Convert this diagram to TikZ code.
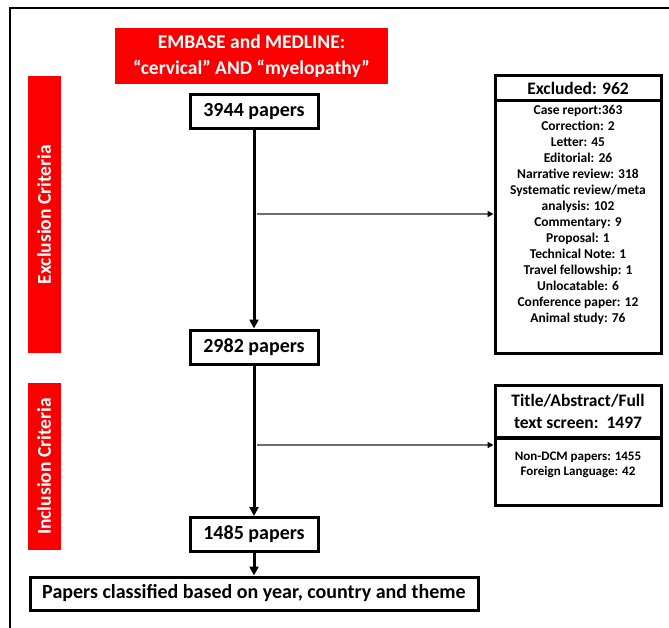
\documentclass[tikz,border=0pt]{standalone}
\usepackage{fontspec}
\setmainfont{Carlito}
\usetikzlibrary{arrows.meta}
\definecolor{redbar}{RGB}{250,0,0}
\begin{document}
\begin{tikzpicture}[x=1pt,y=-1pt,
  box/.style={draw=black,line width=3pt,inner sep=0pt,align=center,font=\bfseries\fontsize{20}{24}\selectfont},
  redbox/.style={fill=redbar,inner sep=0pt,text=white,align=center,font=\bfseries\fontsize{19.5}{26}\selectfont},
  plain/.style={inner sep=0pt,align=center},
  flow/.style={line width=3pt,-{Triangle[length=9pt,width=9pt]}},
  side/.style={draw=gray!85!black,line width=1.3pt,-{Triangle[length=6pt,width=6pt,color=black]}}]
\useasboundingbox (0,0) rectangle (669,628);
\draw[line width=2.5pt] (10,628) -- (10,8) -- (669,8);

% source and main flow
\node[redbox,minimum width=273pt,minimum height=56pt] (src) at (251.5,56) {EMBASE and MEDLINE:\\“cervical” AND “myelopathy”};
\node[box,minimum width=128pt,minimum height=34pt] (p1) at (254,112) {3944 papers};
\node[box,minimum width=128pt,minimum height=34pt] (p2) at (254,347) {2982 papers};
\node[box,minimum width=128pt,minimum height=34pt] (p3) at (254,534.5) {1485 papers};
\node[box,minimum width=448pt,minimum height=33pt] (p4) at (254,593.5) {Papers classified based on year, country and theme};

% side bars
\node[redbox,rotate=90,minimum width=277pt,minimum height=33pt] (exc) at (44,214.5) {Exclusion Criteria};
\node[redbox,rotate=90,minimum width=167pt,minimum height=33pt] (inc) at (44,466.5) {Inclusion Criteria};

% excluded box
\node[box,minimum width=166pt,minimum height=25pt,font=\bfseries\fontsize{17.5}{21}\selectfont] (exh) at (578,88.5) {Excluded: 962};
\node[box,minimum width=166pt,minimum height=252pt] (exb) at (578,227) {};
\node[plain,anchor=north,font=\bfseries\fontsize{13.5}{16}\selectfont] (ext) at (578,105.5) {Case report:363\\Correction: 2\\Letter: 45\\Editorial: 26\\Narrative review: 318\\Systematic review/meta\\analysis: 102\\Commentary: 9\\Proposal: 1\\Technical Note: 1\\Travel fellowship: 1\\Unlocatable: 6\\Conference paper: 12\\Animal study: 76};

% screening box
\node[box,minimum width=166pt,minimum height=53pt,font=\bfseries\fontsize{17.5}{21.5}\selectfont] (sch) at (578,411.5) {Title/Abstract/Full\\text screen:~~1497};
\node[box,minimum width=166pt,minimum height=68pt] (scb) at (578,471) {};
\node[plain,anchor=north,font=\bfseries\fontsize{13}{14.5}\selectfont] (sct) at (578,452) {Non-DCM papers: 1455\\Foreign Language: 42};

% connectors
\draw[flow] (p1) -- (p2);
\draw[flow] (p2) -- (p3);
\draw[flow] (p3) -- (p4);
\coordinate (j1) at (257,214);
\coordinate (j2) at (257,445);
\draw[side] (j1) -- (j1 -| exb.west);
\draw[side] (j2) -- (j2 -| scb.west);
\end{tikzpicture}
\end{document}
